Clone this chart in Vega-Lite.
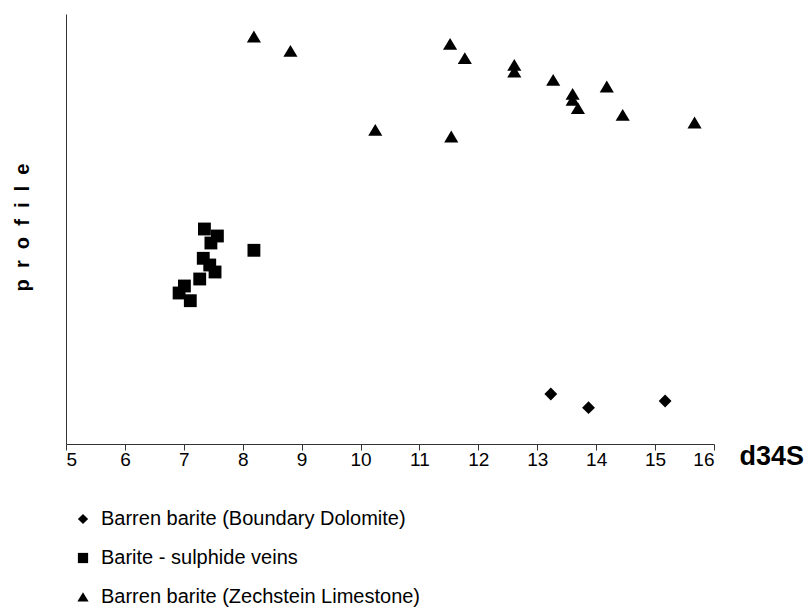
{
  "$schema": "https://vega.github.io/schema/vega-lite/v6.json",
  "width": 648,
  "height": 430,
  "autosize": {"type": "none"},
  "padding": {"left": 66, "top": 14, "right": 96, "bottom": 166},
  "background": "white",
  "config": {
    "view": {"stroke": null},
    "font": "Liberation Sans"
  },
  "data": {
    "values": [
      {"group": "Barren barite (Boundary Dolomite)", "d34S": 13.23, "profile": 50},
      {"group": "Barren barite (Boundary Dolomite)", "d34S": 13.87, "profile": 36.3},
      {"group": "Barren barite (Boundary Dolomite)", "d34S": 15.17, "profile": 43},
      {"group": "Barite - sulphide veins", "d34S": 7.35, "profile": 215},
      {"group": "Barite - sulphide veins", "d34S": 7.57, "profile": 208},
      {"group": "Barite - sulphide veins", "d34S": 7.46, "profile": 201},
      {"group": "Barite - sulphide veins", "d34S": 8.19, "profile": 193.7},
      {"group": "Barite - sulphide veins", "d34S": 7.33, "profile": 185.7},
      {"group": "Barite - sulphide veins", "d34S": 7.44, "profile": 179},
      {"group": "Barite - sulphide veins", "d34S": 7.53, "profile": 172},
      {"group": "Barite - sulphide veins", "d34S": 7.27, "profile": 165},
      {"group": "Barite - sulphide veins", "d34S": 7.01, "profile": 158},
      {"group": "Barite - sulphide veins", "d34S": 6.92, "profile": 151},
      {"group": "Barite - sulphide veins", "d34S": 7.11, "profile": 143.3},
      {"group": "Barren barite (Zechstein Limestone)", "d34S": 8.19, "profile": 407.3},
      {"group": "Barren barite (Zechstein Limestone)", "d34S": 8.81, "profile": 393},
      {"group": "Barren barite (Zechstein Limestone)", "d34S": 11.52, "profile": 400},
      {"group": "Barren barite (Zechstein Limestone)", "d34S": 11.77, "profile": 385.7},
      {"group": "Barren barite (Zechstein Limestone)", "d34S": 12.61, "profile": 379},
      {"group": "Barren barite (Zechstein Limestone)", "d34S": 12.61, "profile": 372.3},
      {"group": "Barren barite (Zechstein Limestone)", "d34S": 13.27, "profile": 364},
      {"group": "Barren barite (Zechstein Limestone)", "d34S": 14.18, "profile": 357.3},
      {"group": "Barren barite (Zechstein Limestone)", "d34S": 13.6, "profile": 350},
      {"group": "Barren barite (Zechstein Limestone)", "d34S": 13.6, "profile": 344},
      {"group": "Barren barite (Zechstein Limestone)", "d34S": 13.69, "profile": 335.7},
      {"group": "Barren barite (Zechstein Limestone)", "d34S": 14.45, "profile": 329},
      {"group": "Barren barite (Zechstein Limestone)", "d34S": 15.67, "profile": 321.3},
      {"group": "Barren barite (Zechstein Limestone)", "d34S": 10.25, "profile": 314},
      {"group": "Barren barite (Zechstein Limestone)", "d34S": 11.54, "profile": 307.3}
    ]
  },
  "mark": {"type": "point", "filled": true, "opacity": 1, "color": "black", "strokeWidth": 0, "size": 165},
  "encoding": {
    "x": {
      "field": "d34S", "type": "quantitative",
      "scale": {"domain": [5, 16], "nice": false, "zero": false},
      "axis": {
        "values": [5, 6, 7, 8, 9, 10, 11, 12, 13, 14, 15, 16],
        "grid": false, "tickSize": 6, "tickColor": "#333", "domainColor": "#333",
        "labelFontSize": 19, "labelColor": "black", "labelPadding": 0, "labelFont": "Liberation Sans",
        "title": "d34S", "titleFontSize": 27, "titleFontWeight": "bold", "titleColor": "black",
        "titleAnchor": "start", "titleAlign": "left", "titleX": 673, "titleY": 12, "titleBaseline": "middle"
      }
    },
    "y": {
      "field": "profile", "type": "quantitative",
      "scale": {"domain": [0, 430], "nice": false, "zero": false},
      "axis": {
        "ticks": false, "labels": false, "grid": false, "domainColor": "#333",
        "title": "p \u00a0r \u00a0o \u00a0f \u00a0i \u00a0l \u00a0e", "titleFontSize": 20, "titleFontWeight": "bold", "titleColor": "black",
        "titleAngle": -90, "titleAlign": "center", "titleBaseline": "middle", "titleX": -44, "titleY": 213
      }
    },
    "shape": {
      "field": "group", "type": "nominal",
      "scale": {
        "domain": ["Barren barite (Boundary Dolomite)", "Barite - sulphide veins", "Barren barite (Zechstein Limestone)"],
        "range": ["diamond", "square", "M-1.1,0.9L0,-0.95L1.1,0.9Z"]
      },
      "legend": {
        "title": null, "orient": "none", "legendX": 7, "legendY": 495,
        "labelFontSize": 20, "labelColor": "black", "labelFont": "Liberation Sans",
        "symbolSize": 105, "symbolFillColor": "black", "symbolStrokeWidth": 0, "symbolOpacity": 1,
        "labelOffset": 8, "rowPadding": 19, "padding": 0, "labelLimit": 600
      }
    }
  }
}
